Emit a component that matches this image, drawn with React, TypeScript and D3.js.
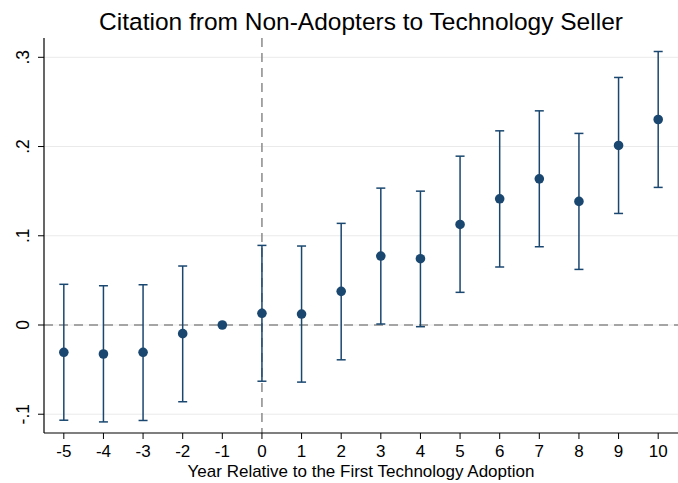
import React from "react";
import * as d3 from "d3";

const years = [-5, -4, -3, -2, -1, 0, 1, 2, 3, 4, 5, 6, 7, 8, 9, 10];
const coef = [-0.0306, -0.0325, -0.0306, -0.0097, 0, 0.0131, 0.0123, 0.0377, 0.0773, 0.0743, 0.1127, 0.1414, 0.1638, 0.1385, 0.2012, 0.2303];
const ciLow = [-0.1067, -0.1086, -0.107, -0.086, 0, -0.063, -0.064, -0.039, 0.0011, -0.0019, 0.0366, 0.065, 0.0877, 0.0623, 0.125, 0.1542];
const ciHigh = [0.0456, 0.044, 0.0451, 0.0661, 0, 0.0892, 0.0885, 0.1139, 0.1534, 0.150, 0.1892, 0.2176, 0.240, 0.2147, 0.2774, 0.3065];
const yTicks = [-0.1, 0, 0.1, 0.2, 0.3];
const yTickLabels = ["-.1", "0", ".1", ".2", ".3"];
const titleText = "Citation from Non-Adopters to Technology Seller";
const xTitle = "Year Relative to the First Technology Adoption";

const W = 678;
const H = 483;
const left = 44;
const right = 678;
const top = 38;
const bottom = 433;

export default function App() {
  const x = d3.scaleLinear().domain([-5.5, 10.5]).range([left, right]);
  const y = d3.scaleLinear().domain([0, 0.3]).range([325, 57.3]);
  const navy = "#1a476f";
  const font = "'Liberation Sans', Arial, sans-serif";
  return (
    <svg width={W} height={H} style={{ position: "absolute", left: 0, top: 0, background: "#fff" }} fontFamily={font}>
      <rect x={0} y={0} width={W} height={H} fill="#fff" />
      {yTicks.map((t) => (
        <line key={"g" + t} x1={left} x2={right} y1={y(t)} y2={y(t)} stroke="#eaeaea" strokeWidth={1} />
      ))}
      <line x1={left} x2={right} y1={y(0)} y2={y(0)} stroke="#8a8a8a" strokeWidth={1.5} strokeDasharray="9,6" />
      <line x1={x(0)} x2={x(0)} y1={top} y2={bottom} stroke="#8a8a8a" strokeWidth={1.5} strokeDasharray="9,6" />
      <line x1={left} x2={left} y1={top} y2={bottom} stroke="#000" strokeWidth={1.2} />
      <line x1={left} x2={right} y1={bottom} y2={bottom} stroke="#000" strokeWidth={1.2} />
      {yTicks.map((t, i) => (
        <g key={"yt" + t}>
          <line x1={left - 6} x2={left} y1={y(t)} y2={y(t)} stroke="#000" strokeWidth={1} />
          <text
            transform={`translate(${29},${y(t)}) rotate(-90)`}
            textAnchor="middle"
            fontSize={17.5}
            fill="#000"
          >
            {yTickLabels[i]}
          </text>
        </g>
      ))}
      {years.map((yr) => (
        <g key={"xt" + yr}>
          <line x1={x(yr)} x2={x(yr)} y1={bottom} y2={bottom + 6} stroke="#000" strokeWidth={1} />
          <text x={x(yr)} y={457} textAnchor="middle" fontSize={17} fill="#000">
            {String(yr)}
          </text>
        </g>
      ))}
      <text x={(left + right) / 2} y={477} textAnchor="middle" fontSize={17} fill="#000">
        {xTitle}
      </text>
      <text x={(left + right) / 2} y={30} textAnchor="middle" fontSize={24.5} fill="#000">
        {titleText}
      </text>
      {years.map((yr, i) =>
        ciLow[i] === ciHigh[i] ? null : (
          <g key={"e" + yr} stroke={navy} strokeWidth={1.5}>
            <line x1={x(yr)} x2={x(yr)} y1={y(ciLow[i])} y2={y(ciHigh[i])} />
            <line x1={x(yr) - 4.5} x2={x(yr) + 4.5} y1={y(ciLow[i])} y2={y(ciLow[i])} />
            <line x1={x(yr) - 4.5} x2={x(yr) + 4.5} y1={y(ciHigh[i])} y2={y(ciHigh[i])} />
          </g>
        )
      )}
      {years.map((yr, i) => (
        <circle key={"p" + yr} cx={x(yr)} cy={y(coef[i])} r={4.8} fill={navy} />
      ))}
    </svg>
  );
}
